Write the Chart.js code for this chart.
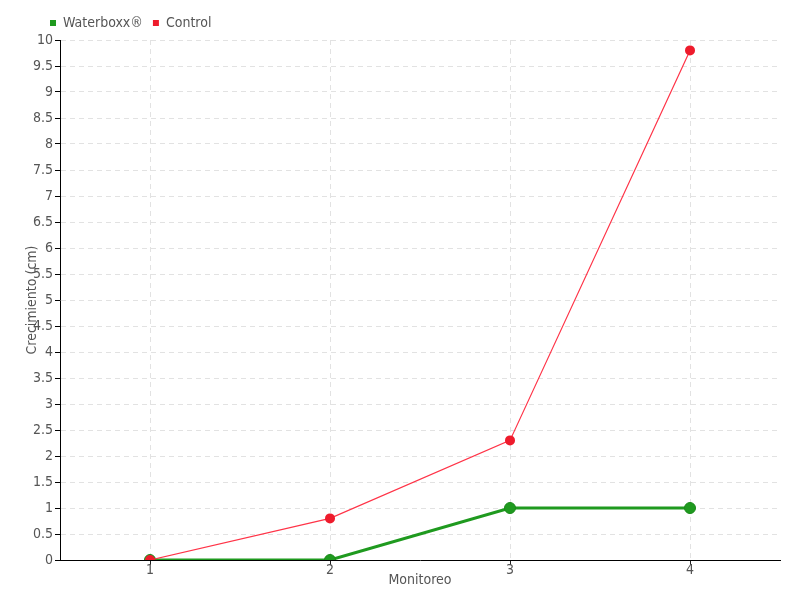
<!DOCTYPE html>
<html>
<head>
<meta charset="utf-8">
<script src="https://cdn.jsdelivr.net/npm/chart.js@4.4.0/dist/chart.umd.min.js"></script>
<style>
  html, body { margin: 0; padding: 0; background: #fff; }
  #cadre { width: 800px; height: 600px; }
</style>
</head>
<body>
<div id="cadre"><canvas id="graphique"></canvas></div>
<script>
// Données
const monitoreos = ['1', '2', '3', '4'];
const waterboxx = [0, 0, 1, 1];
const control = [0, 0.8, 2.3, 9.8];

const vert = '#1f9a1f';
const rouge = '#ee1b2c';
const police = "'DejaVu Sans Condensed', 'Liberation Sans Narrow', sans-serif";

Chart.defaults.font.family = police;
Chart.defaults.font.size = 14;
Chart.defaults.color = '#555';

// Décale la légende vers la droite comme sur l'original
const decalageLegende = {
    id: 'decalageLegende',
    afterLayout(chart) {
        if (chart.legend) chart.legend.left += 40;
    }
};

const ctx = document.getElementById('graphique').getContext('2d');
new Chart(ctx, {
    type: 'line',
    data: {
        labels: monitoreos,
        datasets: [{
            label: 'Waterboxx®',
            data: waterboxx,
            borderColor: vert,
            backgroundColor: vert,
            borderWidth: 3,
            pointRadius: 5.5,
            pointBorderWidth: 1,
            pointBorderColor: '#188a18',
            tension: 0,
            order: 1
        }, {
            label: 'Control',
            data: control,
            borderColor: '#ff3347',
            backgroundColor: rouge,
            borderWidth: 1.2,
            pointRadius: 5,
            pointBorderWidth: 0,
            tension: 0,
            order: 0
        }]
    },
    options: {
        responsive: true,
        maintainAspectRatio: false,
        animation: false,
        layout: { padding: { left: 0, right: 20, top: 6, bottom: 0 } },
        scales: {
            x: {
                offset: true,
                grid: {
                    color: '#e2e2e2',
                    tickColor: '#222',
                    tickLength: 5
                },
                border: { color: '#000', dash: [5, 4] },
                ticks: { padding: -3, color: '#555' },
                title: {
                    display: true,
                    text: 'Monitoreo',
                    color: '#555',
                    padding: { top: 0, bottom: 11 }
                },
                afterFit(scale) { scale.height = 40; }
            },
            y: {
                min: 0,
                max: 10,
                ticks: {
                    stepSize: 0.5,
                    padding: 2,
                    color: '#555',
                    callback: v => String(v)
                },
                grid: {
                    color: '#e2e2e2',
                    tickColor: '#000',
                    tickLength: 5
                },
                border: { color: '#000', dash: [5, 4] },
                title: {
                    display: true,
                    text: 'Crecimiento (cm)',
                    color: '#555',
                    padding: { top: 24, bottom: 0 }
                },
                afterFit(scale) { scale.width = 60; }
            }
        },
        plugins: {
            legend: {
                position: 'top',
                align: 'start',
                labels: {
                    boxWidth: 6,
                    boxHeight: 6,
                    padding: 10,
                    color: '#555',
                    generateLabels(chart) {
                        return chart.data.datasets.map((ds, i) => ({
                            text: ds.label,
                            fillStyle: ds.backgroundColor,
                            strokeStyle: ds.backgroundColor,
                            lineWidth: 0,
                            fontColor: '#555',
                            hidden: !chart.isDatasetVisible(i),
                            datasetIndex: i
                        }));
                    }
                }
            },
            tooltip: { enabled: false }
        }
    },
    plugins: [decalageLegende]
});
</script>
</body>
</html>
